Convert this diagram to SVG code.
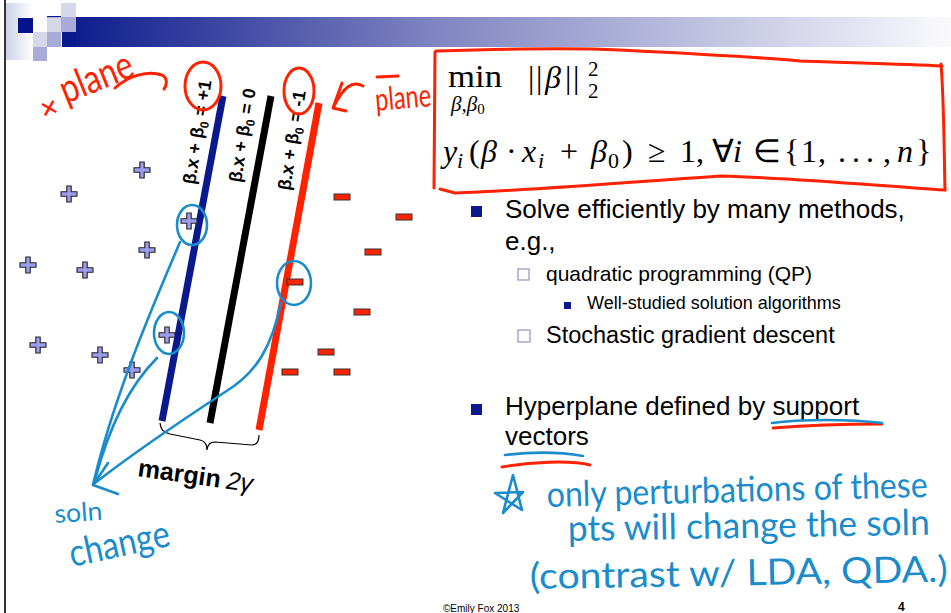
<svg xmlns="http://www.w3.org/2000/svg" width="951" height="613" viewBox="0 0 951 613">
<defs>
  <linearGradient id="bar" gradientUnits="userSpaceOnUse" x1="62" y1="0" x2="951" y2="0">
    <stop offset="0" stop-color="#0a1a8c"/>
    <stop offset="0.425" stop-color="#8286c2"/>
    <stop offset="1" stop-color="#fafafd"/>
  </linearGradient>
  <linearGradient id="pale" x1="0" y1="0" x2="1" y2="0">
    <stop offset="0" stop-color="#cfd1e8"/>
    <stop offset="1" stop-color="#ffffff"/>
  </linearGradient>
  <path id="plus" d="M-2.2,-8 H2.2 V-2.2 H8 V2.2 H2.2 V8 H-2.2 V2.2 H-8 V-2.2 H-2.2 Z" fill="#9c9cf0" stroke="#222" stroke-width="1.1"/>
  <rect id="minus" x="-8" y="-3" width="16" height="6" fill="#ff2200" stroke="#333" stroke-width="1"/>
</defs>
<style>
  .sans{font-family:"Liberation Sans",Arial,sans-serif;fill:#000}
  .serif{font-family:"Liberation Serif","Times New Roman",serif;fill:#000}
  .it{font-style:italic}
  .hand{font-family:Lato,"Open Sans",sans-serif}
  .hred{fill:#ff2200}
  .hblue{fill:#1a8ccc}
  .red{stroke:#ff2200;fill:none;stroke-width:3;stroke-linecap:round;stroke-linejoin:round}
  .blue{stroke:#1a8ccc;fill:none;stroke-width:2.6;stroke-linecap:round;stroke-linejoin:round}
  .lbl{font-family:"Liberation Sans",Arial,sans-serif;font-weight:bold;font-size:18px;fill:#000}
  .navy{fill:#0a1a8c}
  .hollow{fill:#fff;stroke:#9a9ad0;stroke-width:1.3}
</style>
<rect width="951" height="613" fill="#fff"/>

<g id="header">
  <rect x="4" y="0" width="2" height="613" fill="#333"/>
  <rect x="6" y="3" width="27" height="57" fill="url(#pale)"/>
  <rect x="18" y="18" width="15" height="15" fill="#06148c"/>
  <rect x="33" y="32" width="14" height="15" fill="#d6d8ea"/>
  <rect x="47" y="17" width="14" height="15" fill="#d6d8ea"/>
  <rect x="61" y="3" width="15" height="14" fill="#d6d8ea"/>
  <rect x="61" y="17" width="15" height="15" fill="#a9acd8"/>
  <rect x="47" y="32" width="14" height="15" fill="#a9acd8"/>
  <rect x="33" y="47" width="14" height="14" fill="#a9acd8"/>
  <rect x="47" y="16" width="14" height="1.2" fill="#0a1a8c"/>
  <rect x="62" y="32" width="14" height="15" fill="#0a1a8c"/>
  <rect x="76" y="17" width="875" height="30" fill="url(#bar)"/>
</g>

<g id="lines">
  <line x1="223" y1="96" x2="162" y2="421" stroke="#0a1a8c" stroke-width="7"/>
  <line x1="271" y1="96" x2="210" y2="423" stroke="#000" stroke-width="7"/>
  <line x1="319" y1="103" x2="259" y2="430" stroke="#ff2200" stroke-width="7"/>
  <text class="lbl" transform="translate(195,185) rotate(-81)">β.x + β<tspan dy="4" font-size="12">0</tspan><tspan dy="-4"> = +1</tspan></text>
  <text class="lbl" transform="translate(241,183) rotate(-81)">β.x + β<tspan dy="4" font-size="12">0</tspan><tspan dy="-4"> = 0</tspan></text>
  <text class="lbl" transform="translate(290,191) rotate(-81)">β.x + β<tspan dy="4" font-size="12">0</tspan><tspan dy="-4"> = -1</tspan></text>
  <path d="M160,423 C161,430 163,432 170,434 L200,440 C205,441 207,444 207,450 C208,444 210,442 215,442 L252,445 C257,445 259,441 259,435" fill="none" stroke="#000" stroke-width="1.2"/>
  <text class="sans" font-size="25" transform="translate(137,476) rotate(8)"><tspan font-weight="bold">margin</tspan><tspan class="it" dx="6">2γ</tspan></text>
</g>

<g id="points">
  <use href="#plus" x="142" y="170"/>
  <use href="#plus" x="69" y="194"/>
  <use href="#plus" x="189" y="221"/>
  <use href="#plus" x="147" y="250"/>
  <use href="#plus" x="28" y="265"/>
  <use href="#plus" x="85" y="270"/>
  <use href="#plus" x="167" y="335"/>
  <use href="#plus" x="38" y="345"/>
  <use href="#plus" x="100" y="355"/>
  <use href="#plus" x="132" y="370"/>
  <use href="#minus" x="342" y="197"/>
  <use href="#minus" x="404" y="217"/>
  <use href="#minus" x="373" y="252"/>
  <use href="#minus" x="295" y="282"/>
  <use href="#minus" x="362" y="312"/>
  <use href="#minus" x="326" y="352"/>
  <use href="#minus" x="290" y="372"/>
  <use href="#minus" x="342" y="372"/>
</g>

<g id="formula">
  <text class="serif" font-size="32" x="448" y="87" textLength="54" lengthAdjust="spacingAndGlyphs">min</text>
  <text class="serif it" font-size="21" x="451" y="111">β,β<tspan font-style="normal" font-size="15" dy="3">0</tspan></text>
  <text class="serif" font-size="32" y="88"><tspan x="528">|</tspan><tspan x="536">|</tspan><tspan class="it" x="545">β</tspan><tspan x="565">|</tspan><tspan x="573">|</tspan></text>
  <text class="serif" font-size="21" x="588" y="76">2</text>
  <text class="serif" font-size="21" x="588" y="98">2</text>
  <text class="serif" font-size="32" y="162"><tspan class="it" x="443">y</tspan><tspan class="it" font-size="22" x="457" dy="6">i</tspan><tspan x="469" dy="-6">(</tspan><tspan class="it" x="481">β</tspan><tspan x="506">·</tspan><tspan class="it" x="522">x</tspan><tspan class="it" font-size="22" x="538" dy="6">i</tspan><tspan x="560" dy="-6">+</tspan><tspan class="it" x="591">β</tspan><tspan font-size="22" x="608" dy="6">0</tspan><tspan x="622" dy="-6">)</tspan><tspan x="648">≥</tspan><tspan x="680">1</tspan><tspan x="696">,</tspan><tspan x="712">∀</tspan><tspan class="it" x="733">i</tspan><tspan x="753">∈</tspan><tspan x="784">{</tspan><tspan x="801">1</tspan><tspan x="818">,</tspan><tspan x="838">.</tspan><tspan x="852">.</tspan><tspan x="866">.</tspan><tspan x="883">,</tspan><tspan class="it" x="897">n</tspan><tspan x="916">}</tspan></text>
</g>

<g id="bullets">
  <rect class="navy" x="471" y="206" width="11" height="11"/>
  <text class="sans" font-size="26" x="505" y="218">Solve efficiently by many methods,</text>
  <text class="sans" font-size="26" x="505" y="250">e.g.,</text>
  <rect class="hollow" x="518" y="269" width="11" height="11"/>
  <text class="sans" font-size="21" x="546" y="281">quadratic programming (QP)</text>
  <rect class="navy" x="564" y="302" width="7" height="7"/>
  <text class="sans" font-size="18" x="587" y="309">Well-studied solution algorithms</text>
  <rect class="hollow" x="518" y="330" width="12" height="12"/>
  <text class="sans" font-size="23.5" x="546" y="343">Stochastic gradient descent</text>
  <rect class="navy" x="471" y="404" width="11" height="11"/>
  <text class="sans" font-size="26" x="505" y="415">Hyperplane defined by support</text>
  <text class="sans" font-size="26" x="505" y="445">vectors</text>
</g>

<g id="footer">
  <text class="sans" font-size="10" x="443" y="612" fill="#222">©Emily Fox 2013</text>
  <text class="sans" font-size="12" font-weight="bold" x="898" y="611">4</text>
</g>

<g id="red-annotations">
  <path class="red" d="M436,51 C500,49 580,48 620,50 C700,54 780,59 800,61 C860,63 910,64 942,66"/>
  <path class="red" d="M435,52 L434,188"/>
  <path class="red" d="M440,189 L455,193 C520,191 620,183 720,176 C800,178 880,186 945,190"/>
  <path class="red" d="M941,64 C944,100 944,150 945,190"/>
  <ellipse class="red" cx="203" cy="86" rx="18" ry="24"/>
  <ellipse class="red" cx="299" cy="91" rx="15" ry="23"/>
  <path class="red" d="M115,88 C128,76 148,70 162,75 C168,78 167,85 164,89"/>
  <path class="red" d="M363,86 C352,80 343,88 334,106"/>
  <path class="red" d="M342,83 L333,108 L346,111"/>
  <path class="red" d="M377,77 L398,76"/>
  <text class="hand hred" font-size="34" transform="translate(35,113) rotate(30)">+</text>
  <text class="hand hred" font-size="40" transform="translate(66,104) rotate(-22)" textLength="76" lengthAdjust="spacingAndGlyphs">plane</text>
  <text class="hand hred" font-size="32" transform="translate(376,111) rotate(-5)" textLength="56" lengthAdjust="spacingAndGlyphs">plane</text>
  <path class="red" d="M773,428 C810,425 850,424 882,424"/>
  <path class="red" d="M502,467 C530,462 570,460 590,465"/>
</g>

<g id="blue-annotations">
  <ellipse class="blue" cx="192" cy="225" rx="15" ry="20"/>
  <ellipse class="blue" cx="169" cy="333" rx="15" ry="21"/>
  <ellipse class="blue" cx="294" cy="283" rx="17" ry="22"/>
  <path class="blue" d="M180,242 C160,290 115,390 93,485"/>
  <path class="blue" d="M157,358 C135,380 112,415 95,480"/>
  <path class="blue" d="M281,303 C272,345 258,372 225,392 C190,415 140,448 95,483"/>
  <path class="blue" d="M108,463 L93,485 L118,494"/>
  <path class="blue" d="M772,423 C800,419 850,419 882,423"/>
  <path class="blue" d="M505,455 C530,452 560,452 583,456"/>
  <path class="blue" d="M503,513 L513,475 L522,510 L495,493 L523,492 Z"/>
  <text class="hand hblue" font-size="26" transform="translate(55,523) rotate(-4)" textLength="48" lengthAdjust="spacingAndGlyphs">soln</text>
  <text class="hand hblue" font-size="38" transform="translate(72,567) rotate(-12)" textLength="102" lengthAdjust="spacingAndGlyphs">change</text>
  <text class="hand hblue" font-size="31" transform="translate(547,507) rotate(-1.5) scale(1,1.15)" textLength="381" lengthAdjust="spacingAndGlyphs">only perturbations of these</text>
  <text class="hand hblue" font-size="32" transform="translate(568,541) rotate(-1) scale(1,1.12)" textLength="362" lengthAdjust="spacingAndGlyphs">pts will change the soln</text>
  <text class="hand hblue" font-size="33" transform="translate(530,589) rotate(-1) scale(1,1.1)" textLength="418" lengthAdjust="spacingAndGlyphs">(contrast w/ LDA, QDA.)</text>
</g>
</svg>
